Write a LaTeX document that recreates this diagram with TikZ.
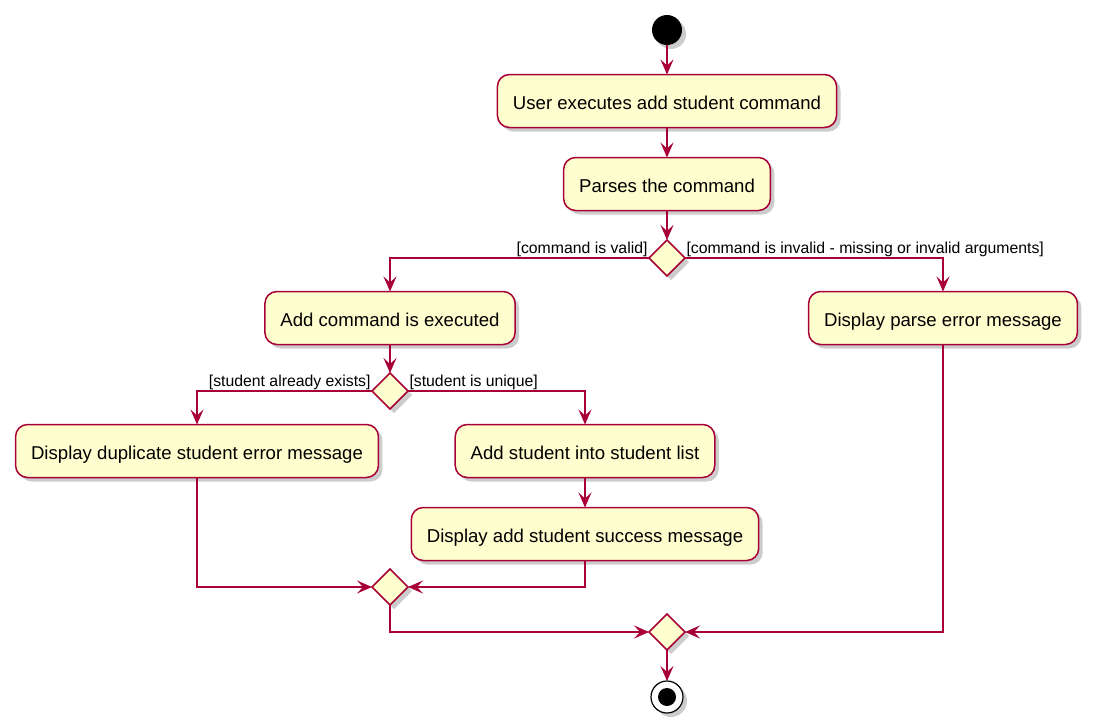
\documentclass[tikz,border=0pt]{standalone}
\usepackage{fontspec}
\setmainfont{Liberation Sans}
\usetikzlibrary{shapes.geometric,arrows.meta,shadows}

\definecolor{umlred}{HTML}{A80036}
\definecolor{umlfill}{HTML}{FEFECE}

\begin{document}
\begin{tikzpicture}[x=1pt,y=-1pt,inner sep=0pt,outer sep=0pt,
	shade/.style={drop shadow={shadow xshift=4pt,shadow yshift=-4pt,fill=black,opacity=0.2}},
	act/.style={rectangle, rounded corners=12pt, draw=umlred, line width=1.5pt, fill=umlfill, shade,
		minimum height=53pt, inner xsep=15.5pt, text height=16pt, text depth=0pt,
		font=\fontsize{18.6}{22}\selectfont},
	choice/.style={diamond, aspect=1, draw=umlred, line width=1.5pt, fill=umlfill, shade,
		minimum width=36pt, minimum height=36pt},
	guard/.style={inner sep=1.5pt, font=\fontsize{15.8}{19}\selectfont},
	flow/.style={draw=umlred, line width=1.5pt, -{Stealth[length=15pt,width=13pt,inset=6pt]}}]
	\useasboundingbox (0,0) rectangle (1093,728);

	\node[circle, fill=black, minimum size=30pt, shade] at (667,30) (start) {};
	\node[act] at (667,101) (user) {User executes add student command};
	\node[act] at (667,184) (parse) {Parses the command};
	\node[choice] at (667,258) (valid) {};
	\node[act] at (390,318) (add) {Add command is executed};
	\node[act] at (943,318) (parseerr) {Display parse error message};
	\node[choice] at (390,391) (unique) {};
	\node[act] at (197,451) (duplicate) {Display duplicate student error message};
	\node[act] at (585,451) (addlist) {Add student into student list};
	\node[act] at (585,534) (success) {Display add student success message};
	\node[choice] at (390,587) (merge1) {};
	\node[choice] at (667,632) (merge2) {};
	\node[circle, draw=black, line width=1.2pt, fill=white, minimum size=32pt, shade] at (667,697) (stop) {};
	\node[circle, fill=black, minimum size=18pt] at (stop) (stopdot) {};

	\path[flow] (start) -- (user);
	\path[flow] (user) -- (parse);
	\path[flow] (parse) -- (valid);
	\path[flow] (valid.west) -| node[guard, pos=0, anchor=south east] {[command is valid]} (add);
	\path[flow] (valid.east) -| node[guard, pos=0, anchor=south west] {[command is invalid - missing or invalid arguments]} (parseerr);
	\path[flow] (add) -- (unique);
	\path[flow] (unique.west) -| node[guard, pos=0, anchor=south east] {[student already exists]} (duplicate);
	\path[flow] (unique.east) -| node[guard, pos=0, anchor=south west] {[student is unique]} (addlist);
	\path[flow] (addlist) -- (success);
	\path[flow] (duplicate) |- (merge1.west);
	\path[flow] (success) |- (merge1.east);
	\path[flow] (merge1) |- (merge2.west);
	\path[flow] (parseerr) |- (merge2.east);
	\path[flow] (merge2) -- (stop);
\end{tikzpicture}
\end{document}
